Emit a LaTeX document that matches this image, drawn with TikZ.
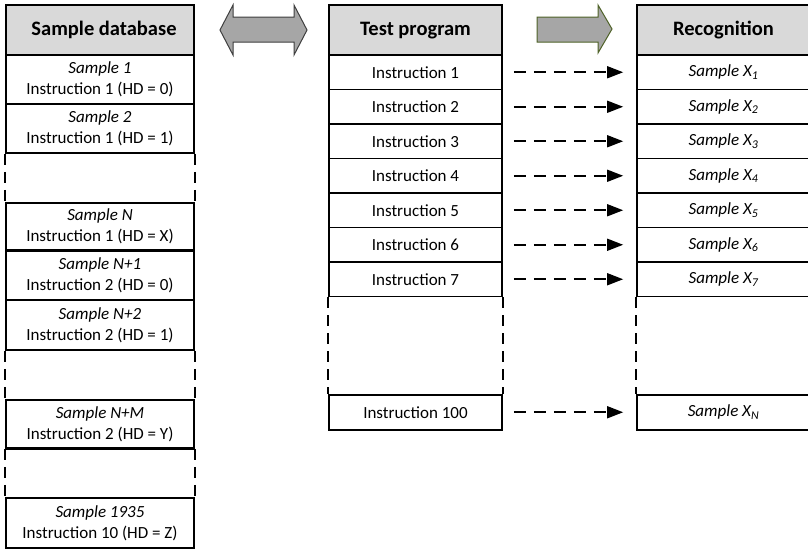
\documentclass[tikz,border=0pt]{standalone}
\usepackage{fontspec}
\setmainfont{Carlito}
\usetikzlibrary{arrows.meta}
\definecolor{headgray}{HTML}{D9D9D9}
\definecolor{blockgray}{HTML}{A6A6A6}
\definecolor{blockedge}{HTML}{3F3F3F}
\definecolor{darkolive}{HTML}{4F6228}

\tikzset{
  cell/.style={draw, line width=1.7pt, fill=white, inner sep=0pt, align=center,
    font=\fontsize{17}{21}\selectfont},
  head/.style={cell, fill=headgray, text height=14pt, text depth=4pt,
    font=\fontsize{20.5}{24}\selectfont\bfseries},
  dbcell/.style={cell, minimum width=188pt},
  tpcell/.style={cell, minimum width=173pt, minimum height=34.5pt},
  gapside/.style={line width=1.7pt, dash pattern=on 11pt off 7pt},
  thickbottom/.style={line width=3pt},
  flow/.style={line width=1.6pt, dash pattern=on 12pt off 8pt,
    -{Triangle[length=16pt,width=12pt]}, shorten <=11pt, shorten >=13pt},
  blockarrow/.style={fill=blockgray, line width=1pt, line join=miter},
}

\begin{document}
\begin{tikzpicture}[x=1pt,y=-1pt]
\clip (0,0) rectangle (808,550);

% ---- sample database column ----
\node[head, minimum width=188pt, minimum height=50pt] (dbhead) at (100,30) {\hspace*{8pt}Sample database};
\node[dbcell, minimum height=49pt] (s1) at (100,79.5) {\textit{Sample 1}\\Instruction 1 (HD = 0)};
\node[dbcell, minimum height=49pt] (s2) at (100,128.5) {\textit{Sample 2}\\Instruction 1 (HD = 1)};
\node[dbcell, minimum height=47pt] (sN) at (100,226.5) {\textit{Sample N}\\Instruction 1 (HD = X)};
\node[dbcell, minimum height=50pt] (sN1) at (100,275) {\textit{Sample N+1}\\Instruction 2 (HD = 0)};
\node[dbcell, minimum height=50pt] (sN2) at (100,325) {\textit{Sample N+2}\\Instruction 2 (HD = 1)};
\node[dbcell, minimum height=48pt] (sNM) at (100,424) {\textit{Sample N+M}\\Instruction 2 (HD = Y)};
\node[dbcell, minimum height=50pt] (s1935) at (100,523) {\textit{Sample 1935}\\Instruction 10 (HD = Z)};

\draw[thickbottom] (sN.south west) -- (sN.south east);
\draw[thickbottom] (sNM.south west) -- (sNM.south east);

\foreach \a/\b in {s2/sN, sN2/sNM, sNM/s1935}{
  \draw[gapside] (\a.south west) -- (\b.north west);
  \draw[gapside] (\a.south east) -- (\b.north east);
}

% ---- test program column ----
\node[head, minimum width=173pt, minimum height=50pt] (tphead) at (415.5,30) {Test program};
\foreach \i in {1,...,7}{
  \node[tpcell] (t\i) at (415.5,{72.25+34.5*(\i-1)}) {Instruction \i};
}
\node[tpcell, minimum height=35pt] (t100) at (415.5,412.25) {Instruction 100};
\draw[gapside] (t7.south west) -- (t100.north west);
\draw[gapside] (t7.south east) -- (t100.north east);

% ---- recognition column ----
\node[head, minimum width=173pt, minimum height=50pt] (rchead) at (723.5,30) {Recognition};
\foreach \i in {1,...,7}{
  \node[tpcell] (r\i) at (723.5,{72.25+34.5*(\i-1)}) {\textit{Sample X\textsubscript{\i}}};
}
\node[tpcell, minimum height=35pt] (rN) at (723.5,412.25) {\textit{Sample X\textsubscript{N}}};
\draw[gapside] (r7.south west) -- (rN.north west);

% ---- instruction to recognition flows ----
\foreach \i in {1,...,7}{
  \draw[flow] (t\i) -- (r\i);
}
\draw[flow] (t100) -- (rN);

% ---- block arrows ----
\draw[blockarrow, draw=blockedge]
  (220,30) -- (233,5) -- (233,17) -- (294,17) -- (294,5) -- (307,30)
  -- (294,55) -- (294,42) -- (233,42) -- (233,55) -- cycle;
\draw[blockarrow, draw=darkolive]
  (537,17) -- (598,17) -- (598,5) -- (612,29) -- (598,53) -- (598,42)
  -- (537,42) -- cycle;
\end{tikzpicture}
\end{document}
